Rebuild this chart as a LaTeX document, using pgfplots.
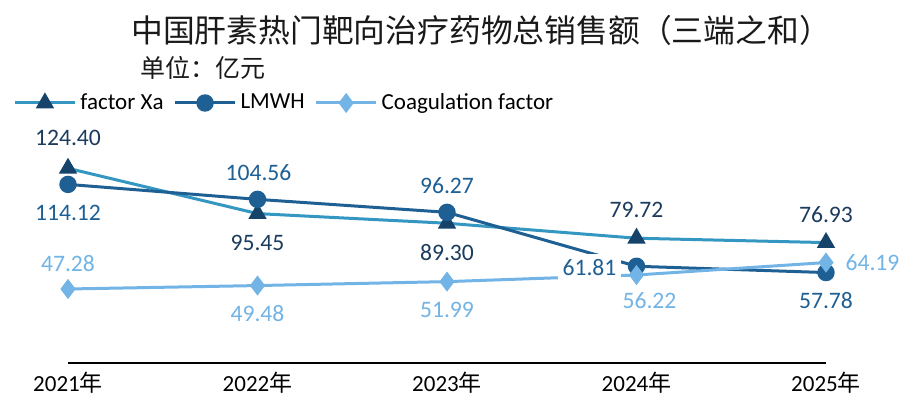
\documentclass[border=0pt]{standalone}
\usepackage{pgfplots}
\usepackage{pgfplotstable}
\pgfplotsset{compat=1.18}
\usepackage{fontspec}
\setmainfont{Carlito}
\newfontfamily\cjk{Noto Sans CJK SC}
\definecolor{xaline}{HTML}{3497C2}
\definecolor{xamark}{HTML}{16436A}
\definecolor{xalab}{HTML}{1B3C5E}
\definecolor{lmwh}{HTML}{1E5F94}
\definecolor{coag}{HTML}{72B4E5}
\pgfplotstableread{
x y dx dy
0 124.40 0 15
1 95.45 0 -14.5
2 89.30 0 -14.5
3 79.72 0 14
4 76.93 0 14
}\tblXa
\pgfplotstableread{
x y dx dy
0 114.12 0 -14.5
1 104.56 0.5 13.5
2 96.27 0 13.5
3 61.81 -23.5 -0.5
4 57.78 0 -14
}\tblLm
\pgfplotstableread{
x y dx dy
0 47.28 0 12.75
1 49.48 0 -14
2 51.99 0 -14
3 56.22 6.5 -12.75
4 64.19 23.25 0
}\tblCo
\pgfplotsset{
  labelplot/.style={draw=none, mark=none, forget plot, point meta=\thisrow{y},
    visualization depends on={\thisrow{dx} \as \dx},
    visualization depends on={\thisrow{dy} \as \dy},
    nodes near coords={\pgfmathprintnumber[fixed,fixed zerofill,precision=2,assume math mode=true]{\pgfplotspointmeta}},
    every node near coord/.append style={font=\fontsize{11.8}{13}\selectfont, fill=white, inner sep=2.5pt, anchor=center, xshift=\dx pt, yshift=\dy pt, text=#1}},
}
\begin{document}
\begin{tikzpicture}
\path[use as bounding box] (0,0) rectangle (457.5pt,202.5pt);
\node[font=\cjk\fontsize{15.9}{18}\selectfont, text=black!90] at (240.5pt,187.5pt) {中国肝素热门靶向治疗药物总销售额（三端之和）};
\node[font=\cjk\fontsize{12.5}{15}\selectfont, text=black!90, anchor=west, inner sep=0pt] at (70pt,168.5pt) {单位：亿元};
\begin{axis}[
  at={(34pt,21pt)}, anchor=south west,
  x=94.75pt, y=0.7825pt,
  xmin=0, xmax=4, ymin=0, ymax=140,
  clip=false,
  axis y line=none,
  axis x line*=bottom,
  axis line style={black, line width=1pt},
  xtick={0,1,2,3,4},
  xticklabels={2021{\cjk 年},2022{\cjk 年},2023{\cjk 年},2024{\cjk 年},2025{\cjk 年}},
  major tick length=0pt,
  xticklabel style={font=\fontsize{11.5}{13}\selectfont, anchor=center, yshift=-10pt},
  legend columns=3,
  legend style={at={(-0.0725,1.1867)}, anchor=west, draw=none, fill=none,
    inner xsep=0pt, inner ysep=0pt,
    font=\fontsize{11.5}{13}\selectfont,
    /tikz/every even column/.append style={column sep=3pt}},
  legend image code/.code={\draw[mark repeat=2,mark phase=2,#1] plot coordinates {(0pt,0pt) (15pt,0pt) (30pt,0pt)};},
]
\addplot[xaline, line width=1.5pt, mark=triangle*, mark size=3.8pt, mark options={draw=xamark, fill=xamark}] table[x=x,y=y] {\tblXa};
\addlegendentry{factor Xa}
\addplot[lmwh, line width=1.5pt, mark=*, mark size=3.6pt, mark options={draw=lmwh, fill=lmwh}] table[x=x,y=y] {\tblLm};
\addlegendentry{LMWH}
\addplot[coag, line width=1.5pt, mark=diamond*, mark size=3.8pt, mark options={draw=coag, fill=coag}] table[x=x,y=y] {\tblCo};
\addlegendentry{Coagulation factor}
\addplot[labelplot=xalab] table[x=x,y=y] {\tblXa};
\addplot[labelplot=lmwh] table[x=x,y=y] {\tblLm};
\addplot[labelplot=coag] table[x=x,y=y] {\tblCo};
\end{axis}
\end{tikzpicture}
\end{document}
